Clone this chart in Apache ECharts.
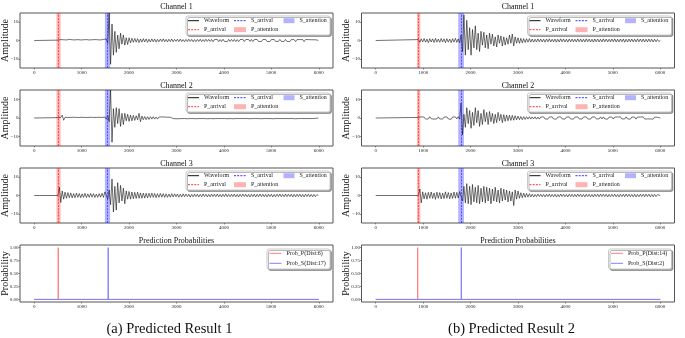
<!DOCTYPE html>
<html>
<head>
<meta charset="utf-8">
<script src="https://cdn.jsdelivr.net/npm/echarts@6.0.0/dist/echarts.min.js"></script>
<style>
  html, body { margin: 0; padding: 0; background: #fff; }
  #chart { width: 685px; height: 338px; }
</style>
</head>
<body>
<div id="chart"></div>
<script>
// ---- tick labels ----
var xTicks = [0, 1000, 2000, 3000, 4000, 5000, 6000];
var ampTicks = [-10, 0, 10];
var probTicks = [0, 0.25, 0.5, 0.75, 1];

// ---- picks (sample index), column 0 = result 1, column 1 = result 2 ----
var pArrival = [510, 900];
var sArrival = [1540, 1800];
var pAttention = [[470, 555], [870, 940]];
var sAttention = [[1490, 1600], [1740, 1860]];
var waveStart = [500, 900];   // first sample of the read-off waveform values
var STEP = 30;                // samples between read-off values

var channelNames = ['Channel 1', 'Channel 2', 'Channel 3'];
var captions = ['(a) Predicted Result 1', '(b) Predicted Result 2'];
var probPLabels = ['Prob_P(Dist:6)', 'Prob_P(Dist:14)'];
var probSLabels = ['Prob_S(Dist:17)', 'Prob_S(Dist:2)'];

// prediction probability curves [sample, prob]
var probP_1 = [[0, 0], [504, 0], [506, 1], [508, 0], [6000, 0]];
var probS_1 = [[0, 0], [1558, 0], [1560, 1], [1562, 0], [6000, 0]];
var probP_2 = [[0, 0], [883, 0], [885, 1], [887, 0], [6000, 0]];
var probS_2 = [[0, 0], [1803, 0], [1805, 1], [1807, 0], [6000, 0]];

// ---- waveforms, amplitude every STEP samples from waveStart ----
var waveL1 = [
  0.2,-0.4,0.5,-0.3,0.4,-0.5,0.3,-0.4,0.6,-0.3,
  0.4,-0.5,0.3,-0.4,0.5,-0.4,0.3,-0.6,0.4,-0.3,
  0.5,-0.4,0.3,-0.5,0.4,-0.3,0.5,-0.4,0.4,-0.5,
  0.3,-0.5,0.6,-0.4,0.8,-1.5,15,-13,9,-8,
  5,-6.5,3,-4.5,4,-2,3,-2.5,1.5,-2.2,
  1.5,-1.3,1.2,-1.0,1.1,-0.9,1.0,-1.1,0.8,-0.9,
  1.0,-0.8,0.9,-1.0,0.7,-0.8,0.9,-0.7,0.8,-0.9,
  0.6,-0.7,0.8,-0.6,0.9,-0.7,0.6,-0.8,0.7,-0.6,
  0.8,-0.7,0.6,-0.5,0.7,-0.6,0.8,-0.6,0.5,-0.7,
  0.6,-0.6,0.7,-0.5,0.6,-0.7,0.5,-0.6,0.6,-0.5,
  0.7,-0.6,0.5,-0.6,0.7,-0.5,0.6,-0.5,0.6,-0.7,
  0.5,-0.5,0.6,-0.6,0.5,-0.6,0.7,-0.5,0.5,-0.6,
  0.6,-0.5,0.6,-0.5,0.6,-0.6,0.5,-0.6,0.5,-0.5,
  0.6,-0.6,0.5,-0.5,0.6,-0.5,0.6,-0.6,0.5,-0.5,
  0.6,-0.5,0.5,-0.6,0.5,-0.5,0.6,-0.5,0.5,-0.6,
  0.5,-0.5,0.6,-0.5,0.5,-0.5,0.6,-0.5,0.5,-0.5,
  0.6,-0.5,0.5,-0.6,0.5,-0.5,0.5,-0.6,0.5,-0.5,
  0.5,-0.5,0.5,-0.6,0.5,-0.5,0.5,-0.5,0.4,-0.4,
  0.4,-0.3,0.3,0
];
var waveL2 = [
  0.2,-0.3,0.3,1.5,-1.2,0.4,-0.3,0.3,-0.4,0.3,
  -0.3,0.4,-0.3,0.3,-0.4,0.3,-0.3,0.4,-0.3,0.3,
  -0.4,0.3,-0.3,0.4,-0.3,0.3,-0.4,0.3,-0.3,0.4,
  -0.3,0.3,-0.4,0.5,-0.6,1.5,-2,15,-13,5,
  -5,5.5,-3,5,-4.5,2.5,-3.5,2.5,-1.5,2,
  -1.8,1.6,-1.5,1.4,-1.3,1.2,-1.0,2.5,-2.0,1.0,
  -0.9,0.8,-0.9,0.7,-0.8,0.7,-0.6,0.7,-0.6,0.5,
  -0.6,0.5,-0.5,0.6,-0.4,0.5,-0.5,0.4,-0.5,0.4,
  0.4,-0.3,0.4,-0.4,0.3,-0.4,0.3,-0.3,0.4,-0.3,
  0.3,-0.4,0.3,-0.3,0.4,-0.3,0.3,-0.4,0.3,-0.3,
  0.4,-0.3,0.3,-0.3,0.4,-0.4,0.3,-0.3,0.3,-0.4,
  0.3,-0.3,0.4,-0.3,0.3,-0.3,0.4,-0.3,0.3,-0.4,
  0.3,-0.3,0.3,-0.4,0.3,-0.3,0.4,-0.3,0.3,-0.3,
  0.4,-0.3,0.3,-0.3,0.3,-0.4,0.3,-0.3,0.4,-0.3,
  0.3,-0.3,0.3,-0.4,0.3,-0.3,0.3,-0.3,0.4,-0.3,
  0.3,-0.4,0.3,-0.3,0.3,-0.3,0.4,-0.3,0.3,-0.3,
  0.3,-0.3,0.4,-0.3,0.3,-0.3,0.3,-0.4,0.3,-0.3,
  0.3,-0.3,0.3,-0.3,0.4,-0.3,0.3,-0.3,0.3,-0.3,
  0.3,-0.2,0.2,0
];
var waveL3 = [
  0,4.5,-3.8,2.5,-2.0,1.8,-1.5,1.6,-1.2,1.4,
  -1.3,1.0,-1.2,1.3,-1.0,1.1,-1.2,0.9,-1.0,1.2,
  -1.1,0.9,-1.0,1.1,-0.9,1.0,-1.1,0.8,-1.0,1.0,
  -0.9,1.2,-1.0,2.0,1.5,-2,3,-5,9,-9,
  5,-8,7,-4,5.5,-3,4,-4.5,2.5,-2,
  2.2,-2.0,1.9,-1.8,1.7,-1.6,1.8,-1.5,1.4,-1.5,
  1.3,-1.4,1.2,-1.3,1.2,-1.1,1.3,-1.0,1.1,-1.2,
  1.0,-1.0,1.1,-0.9,1.0,-1.0,0.9,-1.0,0.8,-0.9,
  1.0,-0.8,0.9,-0.7,0.8,-0.9,0.7,-0.8,0.9,-0.7,
  0.8,-0.6,0.7,-0.9,0.6,-0.7,0.8,-0.6,0.7,-0.8,
  0.6,-0.7,0.9,-0.6,0.7,-0.8,0.6,-0.7,0.8,-0.6,
  0.7,-0.6,0.8,-0.7,0.6,-0.8,0.7,-0.6,0.9,-0.7,
  0.6,-0.7,0.7,-0.6,0.8,-0.7,0.6,-0.8,0.7,-0.6,
  0.8,-0.6,0.7,-0.7,0.6,-0.8,0.7,-0.6,0.7,-0.8,
  0.6,-0.7,0.8,-0.6,0.7,-0.7,0.6,-0.8,0.7,-0.6,
  0.7,-0.8,0.6,-0.7,0.7,-0.6,0.8,-0.7,0.6,-0.7,
  0.8,-0.6,0.7,-0.6,0.7,-0.8,0.6,-0.7,0.7,-0.6,
  0.7,-0.7,0.6,-0.8,0.7,-0.6,0.7,-0.7,0.6,-0.7,
  0.6,-0.6,0.5,0
];
var waveR1 = [
  0.5,-1.0,0.9,-0.8,1.1,-0.9,0.8,-1.2,1.0,-0.8,
  0.9,-1.1,1.2,-0.9,0.8,-1.0,1.1,-0.8,0.9,-1.2,
  1.0,-0.9,0.8,-1.1,1.0,-0.9,1.2,-1.0,0.9,-1.3,
  3,-6,14,-8,11,-5,7,-8,6,-4,
  8,-5,4,-6,5,-2.5,4.5,-4,3,-4.5,
  4,-2,3.5,-3,2,-3.5,3,-1.5,2.5,-3,
  2,-2.5,1.5,-2,3,-1.5,3.5,-3,2,-1.5,
  1.5,-1.5,1.2,-1.3,1.0,-1.1,1.0,-0.9,1.0,-0.9,
  0.8,-0.9,0.7,-0.8,0.9,-0.7,0.8,-0.8,0.7,-0.9,
  0.8,-0.7,0.9,-0.8,0.7,-0.8,0.8,-0.9,0.7,-0.8,
  0.9,-0.7,0.8,-0.8,0.7,-0.9,0.8,-0.7,0.8,-0.8,
  0.7,-0.8,0.9,-0.7,0.8,-0.8,0.7,-0.8,0.9,-0.7,
  0.8,-0.8,0.7,-0.9,0.8,-0.7,0.8,-0.8,0.7,-0.8,
  0.9,-0.7,0.8,-0.8,0.7,-0.8,0.8,-0.7,0.9,-0.8,
  0.7,-0.8,0.8,-0.7,0.8,-0.9,0.7,-0.8,0.8,-0.7,
  0.8,-0.8,0.7,-0.8,0.9,-0.7,0.8,-0.7,0.8,-0.8,
  0.7,-0.8,0.8,-0.7,0.7,-0.8,0.7,-0.7,0.6,-0.6,
  0
];
var waveR2 = [
  0.3,-0.5,0.6,-0.4,0.5,-0.6,0.4,-0.5,0.7,-0.4,
  0.5,-0.6,0.4,-0.5,0.6,-0.5,0.4,-0.6,0.5,-0.4,
  0.6,-0.5,0.4,-0.7,0.5,-0.4,0.6,-0.5,0.7,-0.6,
  8,-9,2,-5,5.5,-3,4,-5.5,3,-4,
  5.5,-2.5,4,-4.5,2.5,-3.5,4.5,-2,3,-3.5,
  3.5,-2,2.5,-3,2,-2.5,3,-1.5,2,-2.5,
  1.8,-1.8,1.6,-1.5,1.5,-1.3,1.4,-1.2,1.2,-1.0,
  1.0,-0.9,0.8,-0.9,0.7,-0.8,0.7,-0.6,0.7,-0.6,
  0.6,-0.5,0.6,-0.6,0.5,-0.6,0.5,-0.5,0.6,-0.5,
  0.5,-0.6,0.5,-0.5,0.6,-0.5,0.5,-0.6,0.5,-0.5,
  0.6,-0.5,0.5,-0.6,0.5,-0.5,0.6,-0.5,0.5,-0.6,
  0.5,-0.5,0.6,-0.5,0.5,-0.6,0.5,-0.5,0.6,-0.5,
  0.5,-0.6,0.5,-0.5,0.6,-0.5,0.5,-0.5,0.6,-0.5,
  0.6,-0.5,0.5,-0.6,0.5,-0.5,0.5,-0.6,0.5,-0.5,
  0.5,-0.5,0.6,-0.5,0.5,-0.5,0.6,-0.5,0.5,-0.6,
  0.5,-0.5,0.5,-0.6,0.5,-0.5,0.5,-0.5,0.6,-0.5,
  0.5,-0.5,0.5,-0.5,0.5,-0.6,0.5,-0.5,0.4,-0.4,
  0
];
var waveR3 = [
  0,3.5,-4,2,-1.8,1.5,-2,1.7,-1.5,1.9,
  -1.6,1.4,-2.1,1.8,-1.5,1.6,-1.9,1.3,-1.7,2.0,
  -1.5,1.6,-1.8,1.4,-1.6,1.9,-1.5,1.7,-1.4,2.2,
  2,-3,5,-4,6.5,-4.5,5,-5,6,-3.5,
  4.5,-4,5.5,-4.5,4,-3.5,5,-4,4.5,-3,
  4,-4.5,3.5,-3,4.5,-3.5,3,-4,4,-3,
  3.5,-2.5,3,-3.5,2.5,-3,2,-5.5,3,-2,
  2.5,-1.5,1.5,-1.2,1.3,-1.0,1.1,-0.9,1.0,-0.8,
  0.7,-0.8,0.6,-0.7,0.8,-0.6,0.7,-0.7,0.6,-0.8,
  0.7,-0.6,0.8,-0.7,0.6,-0.7,0.7,-0.8,0.6,-0.7,
  0.8,-0.6,0.7,-0.7,0.6,-0.8,0.7,-0.6,0.7,-0.7,
  0.6,-0.7,0.8,-0.6,0.7,-0.7,0.6,-0.8,0.7,-0.6,
  0.7,-0.7,0.6,-0.8,0.7,-0.6,0.7,-0.7,0.8,-0.6,
  0.7,-0.6,0.7,-0.8,0.6,-0.7,0.7,-0.6,0.7,-0.7,
  0.6,-0.8,0.7,-0.6,0.7,-0.7,0.8,-0.6,0.7,-0.7,
  0.6,-0.7,0.7,-0.8,0.6,-0.7,0.7,-0.6,0.7,-0.7,
  0.8,-0.6,0.7,-0.7,0.6,-0.7,0.6,-0.6,0.5,-0.5,
  0
];
var waves = [[waveL1, waveL2, waveL3], [waveR1, waveR2, waveR3]];
var probs = [[probP_1, probS_1], [probP_2, probS_2]];

// ---- layout ----
var SERIF = '"Liberation Serif", "Times New Roman", "DejaVu Serif", serif';
var colLeft = [20, 361.5];
var plotW = 313;
var rowTop = [13, 90, 168, 245];
var rowH = [55, 56, 55, 57];
var P_RED = 'rgba(255,0,0,0.3)';
var S_BLUE = 'rgba(0,0,255,0.3)';

var chart = echarts.init(document.getElementById('chart'), null, { renderer: 'canvas' });

var grids = [], xAxes = [], yAxes = [], series = [], legends = [], graphics = [];

function minusFmt(v) { return String(v).replace('-', '\u2212'); }

function legendCol(left, top, items, iw, gap) {
  return {
    left: left, top: top, orient: 'vertical', padding: 0,
    itemGap: gap, itemWidth: iw, itemHeight: 5, selectedMode: false, z: 6,
    data: items,
    itemStyle: { opacity: 0 },
    lineStyle: { width: 1 },
    textStyle: { fontSize: 6, lineHeight: 7, fontFamily: SERIF, color: '#222' }
  };
}

function legendFrame(x, y, w, h) {
  return {
    type: 'rect', z: 5, silent: true,
    shape: { x: x, y: y, width: w, height: h, r: 2 },
    style: { fill: '#fff', stroke: '#bbb', lineWidth: 0.8,
      shadowColor: 'rgba(0,0,0,0.35)', shadowOffsetX: 1.5, shadowOffsetY: 1.5, shadowBlur: 0 }
  };
}

function label(text, x, y, size, rot) {
  return {
    type: 'text', x: x, y: y, rotation: rot || 0, z: 5, silent: true,
    style: { text: text, fontSize: size, fontFamily: SERIF, fill: '#111',
      textAlign: 'center', textVerticalAlign: 'middle', verticalAlign: 'middle' }
  };
}

for (var c = 0; c < 2; c++) {
  for (var r = 0; r < 4; r++) {
    var gi = c * 4 + r;
    var isProb = r === 3;
    grids.push({ left: colLeft[c], top: rowTop[r], width: plotW, height: rowH[r],
      show: true, borderColor: '#555', borderWidth: 1, backgroundColor: 'transparent' });
    xAxes.push({
      gridIndex: gi, type: 'value', min: -300, max: 6300,
      axisLine: { show: false, onZero: false }, splitLine: { show: false },
      axisTick: { show: true, inside: false, length: 1.5, customValues: xTicks,
        lineStyle: { color: '#444', width: 0.6 } },
      axisLabel: { customValues: xTicks, fontSize: 5, margin: 2, color: '#222', fontFamily: SERIF,
        formatter: function (v) { return String(v); } }
    });
    yAxes.push({
      gridIndex: gi, type: 'value',
      min: isProb ? -0.05 : -15, max: isProb ? 1.05 : 15,
      axisLine: { show: false, onZero: false }, splitLine: { show: false },
      axisTick: { show: true, inside: false, length: 1.5, customValues: isProb ? probTicks : ampTicks,
        lineStyle: { color: '#444', width: 0.6 } },
      axisLabel: { customValues: isProb ? probTicks : ampTicks, fontSize: 5, margin: 1.5, color: '#222',
        fontFamily: SERIF,
        formatter: isProb ? function (v) { return v.toFixed(2); } : minusFmt }
    });

    var cx = colLeft[c] + plotW / 2;
    var cy = rowTop[r] + rowH[r] / 2;
    graphics.push(label(isProb ? 'Prediction Probabilities' : channelNames[r],
      cx, rowTop[r] - 5 + (r === 0 ? -0.7 : 0.7), 8));
    graphics.push(label(isProb ? 'Probability' : 'Amplitude', c === 0 ? 5.5 : 346.5, cy, 10, Math.PI / 2));

    if (!isProb) {
      var pts = [[0, 0]];
      waves[c][r].forEach(function (v, i) { pts.push([waveStart[c] + i * STEP, v]); });
      series.push({
        name: 'P_attention', type: 'line', xAxisIndex: gi, yAxisIndex: gi, data: [], z: 1,
        symbol: 'none', itemStyle: { color: P_RED }, lineStyle: { color: P_RED },
        markArea: { silent: true, itemStyle: { color: P_RED },
          data: [[{ xAxis: pAttention[c][0] }, { xAxis: pAttention[c][1] }]] }
      });
      series.push({
        name: 'S_attention', type: 'line', xAxisIndex: gi, yAxisIndex: gi, data: [], z: 1,
        symbol: 'none', itemStyle: { color: S_BLUE }, lineStyle: { color: S_BLUE },
        markArea: { silent: true, itemStyle: { color: S_BLUE },
          data: [[{ xAxis: sAttention[c][0] }, { xAxis: sAttention[c][1] }]] }
      });
      series.push({
        name: 'Waveform', type: 'line', xAxisIndex: gi, yAxisIndex: gi, data: pts, z: 2,
        symbol: 'none', itemStyle: { color: '#111' }, lineStyle: { color: '#111', width: 0.6 }
      });
      series.push({
        name: 'P_arrival', type: 'line', xAxisIndex: gi, yAxisIndex: gi, data: [], z: 3,
        symbol: 'none', itemStyle: { color: '#f33' }, lineStyle: { color: '#f33', width: 0.8, type: [2, 1.2] },
        markLine: { silent: true, symbol: 'none', label: { show: false },
          lineStyle: { color: '#f33', width: 0.8, type: [2, 1.2] },
          data: [{ xAxis: pArrival[c] }] }
      });
      series.push({
        name: 'S_arrival', type: 'line', xAxisIndex: gi, yAxisIndex: gi, data: [], z: 3,
        symbol: 'none', itemStyle: { color: '#33f' }, lineStyle: { color: '#33f', width: 0.8, type: [2, 1.2] },
        markLine: { silent: true, symbol: 'none', label: { show: false },
          lineStyle: { color: '#33f', width: 0.8, type: [2, 1.2] },
          data: [{ xAxis: sArrival[c] }] }
      });

      var bx = colLeft[c] + 166, by = rowTop[r] + 3;
      graphics.push(legendFrame(bx, by, 144, 19));
      legends.push(legendCol(bx + 1.5, by + 1.2, ['Waveform', 'P_arrival'], 11, 2));
      legends.push(legendCol(bx + 47.5, by + 1.2,
        ['S_arrival', { name: 'P_attention', icon: 'rect', itemStyle: { opacity: 1 } }], 12, 2));
      legends.push(legendCol(bx + 97.5, by + 1.2,
        [{ name: 'S_attention', icon: 'rect', itemStyle: { opacity: 1 } }], 11, 2));
    } else {
      series.push({
        name: probPLabels[c], type: 'line', xAxisIndex: gi, yAxisIndex: gi, data: probs[c][0], z: 2,
        symbol: 'none', itemStyle: { color: '#ff8080' }, lineStyle: { color: '#ff8080', width: 1 }
      });
      series.push({
        name: probSLabels[c], type: 'line', xAxisIndex: gi, yAxisIndex: gi, data: probs[c][1], z: 3,
        symbol: 'none', itemStyle: { color: '#8080ff' }, lineStyle: { color: '#8080ff', width: 1 }
      });
      var px = colLeft[c] + 247, py = rowTop[r] + 4;
      graphics.push(legendFrame(px, py, 63, 20));
      legends.push(legendCol(px + 2, py + 0.8, [probPLabels[c], probSLabels[c]], 12, 3));
    }
  }
}

graphics.push(label(captions[0], 169.5, 329, 14.5));
graphics.push(label(captions[1], 511.5, 329, 14.5));

chart.setOption({
  animation: false,
  grid: grids,
  xAxis: xAxes,
  yAxis: yAxes,
  legend: legends,
  series: series,
  graphic: { elements: graphics }
});
</script>
</body>
</html>
